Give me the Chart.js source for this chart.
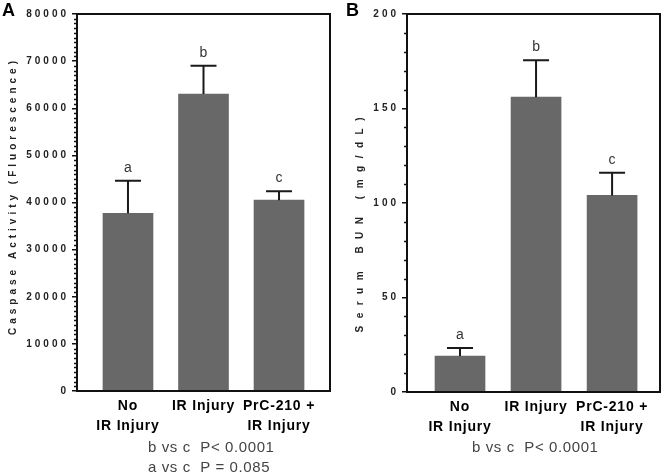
<!DOCTYPE html>
<html>
<head>
<meta charset="utf-8">
<script src="https://cdn.jsdelivr.net/npm/chart.js@4.4.1/dist/chart.umd.min.js"></script>
<style>
  body { margin: 0; background: #fff; }
  #wrap { position: relative; width: 666px; height: 476px; background: #fff; font-family: "Liberation Sans", Arial, sans-serif; }
  .panel { position: absolute; top: 0; width: 333px; height: 476px; }
  .tag { position: absolute; font-weight: bold; font-size: 18px; color: #000; line-height: 18px; }
  .note { position: absolute; font-size: 15px; line-height: 18px; color: #444; white-space: pre; letter-spacing: 0.6px; }
</style>
</head>
<body>
<div id="wrap">
  <div class="panel" style="left:0"><canvas id="chartA" width="333" height="476"></canvas></div>
  <div class="panel" style="left:333px"><canvas id="chartB" width="333" height="476"></canvas></div>
  <div class="tag" style="left:2px; top:1px">A</div>
  <div class="tag" style="left:346px; top:1px">B</div>
  <div class="note" style="left:148px; top:438px">b vs c  P&lt; 0.0001</div>
  <div class="note" style="left:148px; top:458px">a vs c  P = 0.085</div>
  <div class="note" style="left:472px; top:438px">b vs c  P&lt; 0.0001</div>
</div>
<script>
// groups on the x axis
const groups = [['No', 'IR Injury'], 'IR Injury', ['PrC-210 +', 'IR Injury']];
const sigLetters = ['a', 'b', 'c'];

// panel A - caspase activity
const caspaseMean = [37700, 63000, 40500];
const caspaseErr = [6900, 6000, 1900];

// panel B - serum BUN
const bunMean = [19, 156, 104];
const bunErr = [4.3, 19.5, 12];

const FONT = '"Liberation Sans", Arial, sans-serif';
const INK = '#111';

// frame, minor ticks, y labels, error bars and letters
const decor = {
  id: 'decor',
  beforeDraw(chart) {
    chart.ctx.letterSpacing = '0.8px';
  },
  afterDraw(chart, args, o) {
    const ctx = chart.ctx;
    const { left, right, top, bottom } = chart.chartArea;
    const y = chart.scales.y;
    ctx.save();
    ctx.letterSpacing = '0px';

    // error bars + significance letters
    const meta = chart.getDatasetMeta(0);
    ctx.strokeStyle = '#1a1a1a';
    ctx.lineWidth = 2;
    meta.data.forEach((bar, i) => {
      const yTop = y.getPixelForValue(o.mean[i] + o.err[i]);
      ctx.beginPath();
      ctx.moveTo(bar.x, bar.y);
      ctx.lineTo(bar.x, yTop);
      ctx.moveTo(bar.x - 13, yTop);
      ctx.lineTo(bar.x + 13, yTop);
      ctx.stroke();
      ctx.fillStyle = '#333';
      ctx.font = '14px ' + FONT;
      ctx.textAlign = 'center';
      ctx.textBaseline = 'alphabetic';
      ctx.fillText(sigLetters[i], bar.x, yTop - 9);
    });

    // frame
    ctx.strokeStyle = INK;
    ctx.lineWidth = 2;
    ctx.strokeRect(left, top, right - left, bottom - top);

    // minor ticks
    ctx.lineWidth = 1.5;
    ctx.beginPath();
    for (let v = y.min; v <= y.max; v += o.minorStep) {
      if (v % o.majorStep === 0) continue;
      const py = Math.round(y.getPixelForValue(v)) + 0.5;
      ctx.moveTo(left - 3, py);
      ctx.lineTo(left, py);
    }
    ctx.stroke();

    // y tick labels
    ctx.fillStyle = '#222';
    ctx.font = 'bold 10px ' + FONT;
    ctx.letterSpacing = '3px';
    ctx.textAlign = 'right';
    ctx.textBaseline = 'middle';
    y.ticks.forEach(t => {
      ctx.fillText(String(t.value), left - 11 + 3, y.getPixelForValue(t.value));
    });

    // y title
    ctx.font = 'bold 10px ' + FONT;
    ctx.letterSpacing = o.titleSpacing + 'px';
    ctx.fillStyle = '#222';
    ctx.translate(o.titleX, o.titleY);
    ctx.rotate(-Math.PI / 2);
    ctx.textAlign = 'center';
    ctx.fillText(o.title, o.titleSpacing / 2, 0);
    ctx.restore();
  }
};

function makeChart(id, mean, err, opts) {
  new Chart(document.getElementById(id), {
    type: 'bar',
    data: {
      datasets: [{
        data: mean.map((v, i) => ({ x: i, y: v })),
        backgroundColor: '#686868',
        barThickness: 50
      }]
    },
    options: {
      responsive: false,
      animation: false,
      events: [],
      layout: { padding: { left: 0, top: 14, right: opts.padRight, bottom: 0 } },
      plugins: {
        legend: { display: false },
        tooltip: { enabled: false },
        decor: {
          mean, err,
          minorStep: opts.minorStep, majorStep: opts.step,
          title: opts.title, titleX: opts.titleX, titleY: opts.titleY,
          titleSpacing: opts.titleSpacing
        }
      },
      scales: {
        x: {
          type: 'linear',
          offset: false,
          min: opts.xMin, max: opts.xMax,
          afterFit: s => { s.height = opts.xHeight; },
          afterBuildTicks: s => { s.ticks = groups.map((g, i) => ({ value: i })); },
          grid: { display: false, drawTicks: false, offset: false },
          border: { display: false },
          ticks: {
            callback: v => groups[v],
            color: '#000',
            font: { family: FONT, size: 14, weight: 'bold', lineHeight: 1.45 },
            padding: 5,
            maxRotation: 0,
            autoSkip: false
          }
        },
        y: {
          min: 0, max: opts.max,
          afterFit: s => { s.width = opts.yWidth; },
          grid: { drawOnChartArea: false, drawTicks: true, tickLength: 5, color: INK, lineWidth: 1.5 },
          border: { display: false },
          ticks: { stepSize: opts.step, display: false }
        }
      }
    },
    plugins: [decor]
  });
}

makeChart('chartA', caspaseMean, caspaseErr, {
  max: 80000, step: 10000, minorStep: 1000,
  xMin: -0.675, xMax: 2.675, xHeight: 85, yWidth: 77, padRight: 3,
  title: 'Caspase Activity (Fluorescence)', titleX: 13, titleY: 198, titleSpacing: 4
});

makeChart('chartB', bunMean, bunErr, {
  max: 200, step: 50, minorStep: 10,
  xMin: -0.697, xMax: 2.63, xHeight: 84, yWidth: 74, padRight: 6,
  title: 'Serum BUN (mg/dL)', titleX: 27, titleY: 225, titleSpacing: 7.5
});
</script>
</body>
</html>
